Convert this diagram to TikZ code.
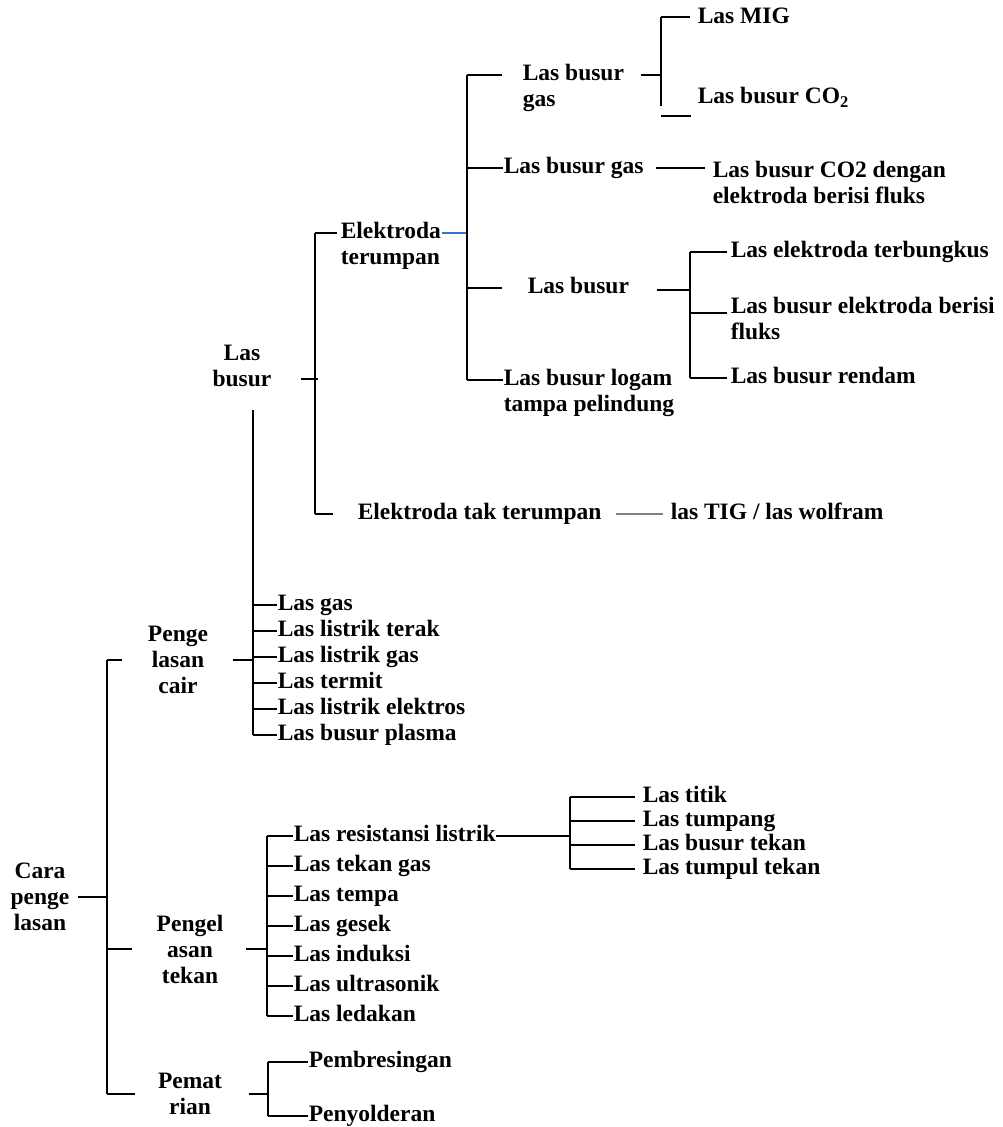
\documentclass[tikz,border=0pt]{standalone}
\usepackage{fontspec}
\setmainfont{Liberation Serif}
\definecolor{garisbiru}{RGB}{50,115,215}
\begin{document}
\begin{tikzpicture}[x=1pt, y=-1pt, line width=1.5pt,
	lbl/.style={inner sep=0pt, font=\fontsize{23.5}{26}\selectfont\bfseries, text height=17pt, text depth=6pt, anchor=west},
	dua/.style={inner sep=0pt, font=\fontsize{23.5}{26}\selectfont\bfseries, align=left, anchor=west},
	tengah/.style={dua, align=center, anchor=center}]
				\useasboundingbox (0,0) rectangle (1002,1127);
				\node [tengah] (cara) at(40,897) {Cara\\penge\\lasan};
				\node [tengah] (cair) at(178,660) {Penge\\lasan\\cair};
				\node [tengah] (tekan) at(190,949) {Pengel\\asan\\tekan};
				\node [tengah] (patri) at(190,1094) {Pemat\\rian};
				\node [tengah] (busur) at(242,366) {Las\\busur};
				\node [dua] (terumpan) at(340,246) {Elektroda\\terumpan};
				\node [lbl] (takterumpan) at(357,514) {Elektroda tak terumpan};
				\node [lbl] (tig) at(670,514) {las TIG / las wolfram};
				\node [dua] (busurgas) at(522,88) {Las busur\\gas};
				\node [lbl] (mig) at(697,18) {Las MIG};
				\node [lbl] (co) at(697,98) {Las busur CO\textsubscript{2}};
				\node [lbl] (busurgasb) at(503,168) {Las busur gas};
				\node [dua] (fluks) at(712,182) {Las busur CO2 dengan\\elektroda berisi fluks};
				\node [lbl] (lasbusur) at(527,288) {Las busur};
				\node [lbl] (terbungkus) at(730,252) {Las elektroda terbungkus};
				\node [dua] (berisi) at(730,318) {Las busur elektroda berisi\\fluks};
				\node [lbl] (rendam) at(730,378) {Las busur rendam};
				\node [dua] (logam) at(503,393) {Las busur logam\\tampa pelindung};
				\foreach \t [count=\i] in {Las gas, Las listrik terak, Las listrik gas, Las termit, Las listrik elektros, Las busur plasma}
					\node [lbl] (cair\i) at(277,579+26*\i) {\t};
				\foreach \t [count=\i] in {Las resistansi listrik, Las tekan gas, Las tempa, Las gesek, Las induksi, Las ultrasonik, Las ledakan}
					\node [lbl] (tekan\i) at(293,806+30*\i) {\t};
				\foreach \t [count=\i] in {Las titik, Las tumpang, Las busur tekan, Las tumpul tekan}
					\node [lbl] (titik\i) at(642,773+24*\i) {\t};
				\node [lbl] (bresing) at(308,1062) {Pembresingan};
				\node [lbl] (solder) at(308,1116) {Penyolderan};
				%
				\coordinate (b0) at(107,0);
				\coordinate (b1) at(253,410);
				\coordinate (b2) at(315,0);
				\coordinate (b3) at(467,0);
				\coordinate (b4) at(661,0);
				\coordinate (b5) at(690,0);
				\coordinate (b6) at(267,0);
				\coordinate (b7) at(570,0);
				\coordinate (b8) at(268,0);
				\draw ([xshift=8pt]cara.east) -- (cara -| b0);
				\draw (b0 |- cair) -- (b0 |- patri);
				\draw (b0 |- cair) -- ([xshift=-25pt]cair.west);
				\draw (b0 |- tekan) -- ([xshift=-24pt]tekan.west);
				\draw (b0 |- patri) -- ([xshift=-22pt]patri.west);
				%
				\draw ([xshift=24pt]cair.east) -- (b1 |- cair);
				\draw (b1) -- (b1 |- cair6);
				\foreach \i in {1,...,6}
					\draw (b1 |- cair\i) -- (cair\i.west);
				%
				\draw ([xshift=29pt,yshift=-13pt]busur.east) -- ([xshift=3pt,yshift=-13pt]busur.east -| b2);
				\draw ([yshift=13pt]terumpan.west -| b2) -- (b2 |- takterumpan);
				\draw ([yshift=13pt]terumpan.west -| b2) -- ([xshift=-3pt,yshift=13pt]terumpan.west);
				\draw (b2 |- takterumpan) -- ([xshift=-24pt]takterumpan.west);
				\draw [gray] ([xshift=14pt]takterumpan.east) -- ([xshift=-7pt]tig.west);
				\draw [garisbiru, line width=1.2pt] ([yshift=13pt]terumpan.east) -- ([yshift=13pt]terumpan.east -| b3);
				%
				\draw ([yshift=13pt]busurgas.west -| b3) -- ([yshift=13pt]logam.west -| b3);
				\draw ([yshift=13pt]busurgas.west -| b3) -- ([xshift=-20pt,yshift=13pt]busurgas.west);
				\draw (b3 |- busurgasb) -- (busurgasb.west);
				\draw (b3 |- lasbusur) -- ([xshift=-25pt]lasbusur.west);
				\draw ([yshift=13pt]logam.west -| b3) -- ([yshift=13pt]logam.west);
				%
				\draw ([xshift=16pt,yshift=13pt]busurgas.east) -- ([yshift=13pt]busurgas.west -| b4);
				\draw ([yshift=1pt]mig.west -| b4) -- ([yshift=-88pt]mig.west -| b4);
				\draw ([yshift=1pt]mig.west -| b4) -- ([xshift=-7pt,yshift=1pt]mig.west);
				\draw ([yshift=-18pt]co.west -| b4) -- ([xshift=-6pt,yshift=-18pt]co.west);
				\draw ([xshift=12pt]busurgasb.east) -- ([xshift=-7pt]fluks.west |- busurgasb);
				%
				\draw ([xshift=27pt,yshift=-2pt]lasbusur.east) -- ([yshift=-2pt]lasbusur.east -| b5);
				\draw (b5 |- terbungkus) -- (b5 |- rendam);
				\draw (b5 |- terbungkus) -- ([xshift=-3pt]terbungkus.west);
				\draw ([yshift=5pt]berisi.west -| b5) -- ([xshift=-3pt,yshift=5pt]berisi.west);
				\draw (b5 |- rendam) -- ([xshift=-3pt]rendam.west);
				%
				\draw ([xshift=22pt]tekan.east) -- (b6 |- tekan);
				\draw (b6 |- tekan1) -- (b6 |- tekan7);
				\foreach \i in {1,...,7}
					\draw (b6 |- tekan\i) -- (tekan\i.west);
				\draw (tekan1.east) -- (b7 |- tekan1);
				\draw (b7 |- titik1) -- (b7 |- titik4);
				\foreach \i in {1,...,4}
					\draw (b7 |- titik\i) -- ([xshift=-7pt]titik\i.west);
				%
				\draw ([xshift=26pt]patri.east) -- (b8 |- patri);
				\draw (b8 |- bresing) -- (b8 |- solder);
				\draw (b8 |- bresing) -- (bresing.west);
				\draw (b8 |- solder) -- (solder.west);
			\end{tikzpicture}
\end{document}
